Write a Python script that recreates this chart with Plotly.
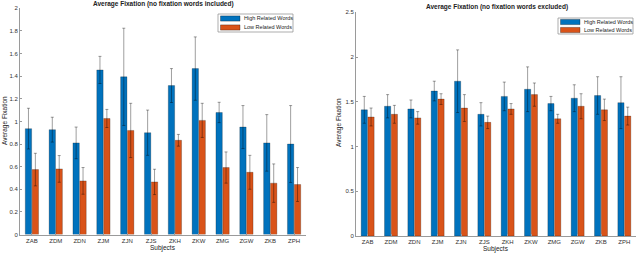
import plotly.graph_objects as go

subjects = ["ZAB", "ZDM", "ZDN", "ZJM", "ZJN", "ZJS", "ZKH", "ZKW", "ZMG", "ZGW", "ZKB", "ZPH"]
series_names = ["High Related Words", "Low Related Words"]

# Left: no fixation words included
inc_high = [0.936, 0.927, 0.81, 1.455, 1.394, 0.90, 1.317, 1.467, 1.079, 0.95, 0.81, 0.80]
inc_high_err = [0.18, 0.11, 0.14, 0.12, 0.43, 0.20, 0.15, 0.28, 0.09, 0.19, 0.25, 0.34]
inc_low = [0.574, 0.58, 0.474, 1.026, 0.92, 0.465, 0.833, 1.009, 0.592, 0.55, 0.454, 0.442]
inc_low_err = [0.144, 0.118, 0.118, 0.08, 0.24, 0.112, 0.052, 0.151, 0.138, 0.15, 0.17, 0.15]

# Right: no fixation words excluded
exc_high = [1.41, 1.45, 1.42, 1.62, 1.73, 1.36, 1.56, 1.64, 1.48, 1.54, 1.57, 1.49]
exc_high_err = [0.15, 0.13, 0.10, 0.11, 0.35, 0.13, 0.16, 0.25, 0.08, 0.15, 0.21, 0.29]
exc_low = [1.33, 1.36, 1.32, 1.53, 1.43, 1.27, 1.42, 1.58, 1.31, 1.45, 1.41, 1.34]
exc_low_err = [0.10, 0.10, 0.07, 0.06, 0.15, 0.07, 0.06, 0.13, 0.05, 0.14, 0.12, 0.10]

left_y_ticks = [0, 0.2, 0.4, 0.6, 0.8, 1, 1.2, 1.4, 1.6, 1.8, 2]
right_y_ticks = [0, 0.5, 1, 1.5, 2, 2.5]

BLUE = "#0072BD"
ORANGE = "#D95319"
ERR = "rgba(0,0,0,0.38)"
FONT = "Liberation Sans, Arial, sans-serif"

fig = go.Figure()

def add(y, err, name, color, xa, ya):
    fig.add_trace(go.Bar(
        x=subjects, y=y, name=name, xaxis=xa, yaxis=ya,
        marker=dict(color=color, line=dict(color="rgba(0,0,0,0.45)", width=0.5)),
        error_y=dict(type="data", array=err, visible=True, color=ERR, thickness=1, width=1.5),
        showlegend=False,
    ))

add(inc_high, inc_high_err, series_names[0], BLUE, "x", "y")
add(inc_low, inc_low_err, series_names[1], ORANGE, "x", "y")
add(exc_high, exc_high_err, series_names[0], BLUE, "x2", "y2")
add(exc_low, exc_low_err, series_names[1], ORANGE, "x2", "y2")

axis_common = dict(
    showgrid=False, zeroline=False, showline=True, linecolor="#9a9a9a", linewidth=1,
    ticks="inside", ticklen=2, tickcolor="#9a9a9a",
    tickfont=dict(size=6, color="#333333", family=FONT),
)

ml, mr, mt, mb = 20, 4, 8, 18
W, H = 640, 254
pw, ph = W - ml - mr, H - mt - mb

def dx(px):
    return (px - ml) / pw

def dy(py):
    return (H - mb - py) / ph

fig.update_layout(
    width=W, height=H,
    margin=dict(l=ml, r=mr, t=mt, b=mb),
    paper_bgcolor="white", plot_bgcolor="white",
    font=dict(family=FONT, color="#222222"),
    barmode="group", bargap=0.42, bargroupgap=0.08,
    xaxis=dict(domain=[dx(20), dx(306)], anchor="y", range=[-0.5, 11.5], **axis_common),
    yaxis=dict(domain=[dy(234.5), dy(8.3)], anchor="x", range=[0, 2], tickvals=left_y_ticks,
               ticktext=[f"{v:g}" for v in left_y_ticks], **axis_common),
    xaxis2=dict(domain=[dx(356), dx(636)], anchor="y2", range=[-0.5, 11.5], **axis_common),
    yaxis2=dict(domain=[dy(236), dy(12.3)], anchor="x2", range=[0, 2.5], tickvals=right_y_ticks,
                ticktext=[f"{v:g}" for v in right_y_ticks], **axis_common),
    showlegend=False,
)

ann = []
ann.append(dict(text="<b>Average Fixation (no fixation words included)</b>", x=163, y=4,
                font=dict(size=6.5)))
ann.append(dict(text="<b>Average Fixation (no fixation words excluded)</b>", x=497, y=7.5,
                font=dict(size=6.5)))
ann.append(dict(text="Subjects", x=163, y=248, font=dict(size=6.5)))
ann.append(dict(text="Subjects", x=496, y=249.5, font=dict(size=6.5)))
ann.append(dict(text="Average Fixation", x=5, y=121, font=dict(size=6.5), textangle=-90))
ann.append(dict(text="Average Fixation", x=339, y=123, font=dict(size=6.5), textangle=-90))

# Legend boxes (drawn as layout decorations)
legend_boxes = [(218, 14, 293, 32), (558, 18, 633, 34)]
colors = [BLUE, ORANGE]
for (x0, y0, x1, y1) in legend_boxes:
    fig.add_shape(type="rect", xref="paper", yref="paper",
                  x0=dx(x0), x1=dx(x1), y0=dy(y1), y1=dy(y0),
                  line=dict(color="#8a8a8a", width=0.7), fillcolor="white", layer="above")
    rowh = (y1 - y0) / 2
    for i, (nm, col) in enumerate(zip(series_names, colors)):
        cy = y0 + rowh * (i + 0.5)
        fig.add_shape(type="rect", xref="paper", yref="paper",
                      x0=dx(x0 + 2.5), x1=dx(x0 + 22), y0=dy(cy + 2.6), y1=dy(cy - 2.6),
                      line=dict(color="rgba(0,0,0,0.6)", width=0.5), fillcolor=col, layer="above")
        ann.append(dict(text=nm, x=x0 + 24, y=cy, font=dict(size=5.5), anchor="left"))

for a in ann:
    fig.add_annotation(
        text=a["text"], xref="paper", yref="paper",
        x=dx(a["x"]), y=dy(a["y"]), xanchor=a.get("anchor", "center"), yanchor="middle",
        showarrow=False, textangle=a.get("textangle", 0),
        font=dict(family=FONT, color="#222222", **a["font"]),
    )

fig.write_html("out.html", config={"displayModeBar": False},
               post_script="document.body.style.margin='0';document.body.style.padding='0';document.body.style.overflow='hidden';")
